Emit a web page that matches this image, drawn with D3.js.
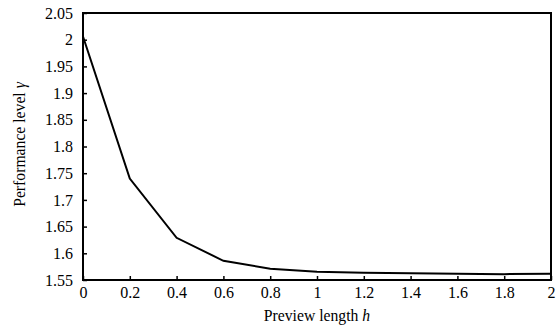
<!DOCTYPE html>
<html>
<head>
<meta charset="utf-8">
<script src="https://cdn.jsdelivr.net/npm/d3@7"></script>
<style>
  body { margin: 0; background: #fff; }
</style>
</head>
<body>
<div id="content"></div>
<script>
// preview length h and the performance level
var previewLength = [0, 0.2, 0.4, 0.6, 0.8, 1.0, 1.2, 1.4, 1.6, 1.8, 2.0];
var performance = [2.006, 1.740, 1.629, 1.586, 1.571, 1.5656, 1.5637, 1.5625, 1.5615, 1.561, 1.5615];
var xTicks = [0, 0.2, 0.4, 0.6, 0.8, 1, 1.2, 1.4, 1.6, 1.8, 2];
var yTicks = [1.55, 1.6, 1.65, 1.7, 1.75, 1.8, 1.85, 1.9, 1.95, 2, 2.05];

var W = 557, H = 325;
var margin = {left: 83, right: 6, top: 13, bottom: 45};
var FONT = '"Liberation Serif", "Times New Roman", Times, serif';

var svg = d3.select('#content').append('svg')
    .attr('width', W)
    .attr('height', H)
    .style('font-family', FONT);

var x = d3.scaleLinear().domain([0, 2]).range([margin.left, W - margin.right]);
var y = d3.scaleLinear().domain([1.55, 2.05]).range([H - margin.bottom, margin.top]);

var fmt = function(d) { return d3.format('')(+d.toFixed(2)); };

// bottom axis, ticks pointing inward
var gx = svg.append('g')
    .attr('transform', 'translate(0,' + (H - margin.bottom) + ')')
    .call(d3.axisBottom(x).tickValues(xTicks).tickSize(-4).tickPadding(7).tickFormat(fmt))
    .attr('font-family', null).attr('font-size', null);
gx.select('.domain').remove();
gx.selectAll('line').attr('stroke', '#000').attr('stroke-width', 1.5);
gx.selectAll('text').style('font-family', FONT).style('font-size', '16px').attr('fill', '#000');

// left axis
var gy = svg.append('g')
    .attr('transform', 'translate(' + margin.left + ',0)')
    .call(d3.axisLeft(y).tickValues(yTicks).tickSize(-4).tickPadding(10).tickFormat(fmt))
    .attr('font-family', null).attr('font-size', null);
gy.select('.domain').remove();
gy.selectAll('line').attr('stroke', '#000').attr('stroke-width', 1.5);
gy.selectAll('text').style('font-family', FONT).style('font-size', '16px').attr('fill', '#000');

// frame
svg.append('rect')
    .attr('x', margin.left)
    .attr('y', margin.top)
    .attr('width', W - margin.right - margin.left)
    .attr('height', H - margin.bottom - margin.top)
    .attr('fill', 'none')
    .attr('stroke', '#000')
    .attr('stroke-width', 2);

// the curve
var line = d3.line()
    .x(function(d) { return x(d[0]); })
    .y(function(d) { return y(d[1]); });

svg.append('path')
    .datum(d3.zip(previewLength, performance))
    .attr('d', line)
    .attr('fill', 'none')
    .attr('stroke', '#000')
    .attr('stroke-width', 2);

// axis titles
var xt = svg.append('text')
    .attr('x', (margin.left + W - margin.right) / 2)
    .attr('y', 321)
    .attr('text-anchor', 'middle')
    .style('font-family', FONT)
    .style('font-size', '15.7px');
xt.append('tspan').text('Preview length ');
xt.append('tspan').style('font-style', 'italic').text('h');

var yt = svg.append('text')
    .attr('transform', 'translate(25,144.5) rotate(-90)')
    .attr('text-anchor', 'middle')
    .style('font-family', FONT)
    .style('font-size', '15.7px');
yt.append('tspan').text('Performance level ');
yt.append('tspan').style('font-style', 'italic').text('γ');
</script>
</body>
</html>
